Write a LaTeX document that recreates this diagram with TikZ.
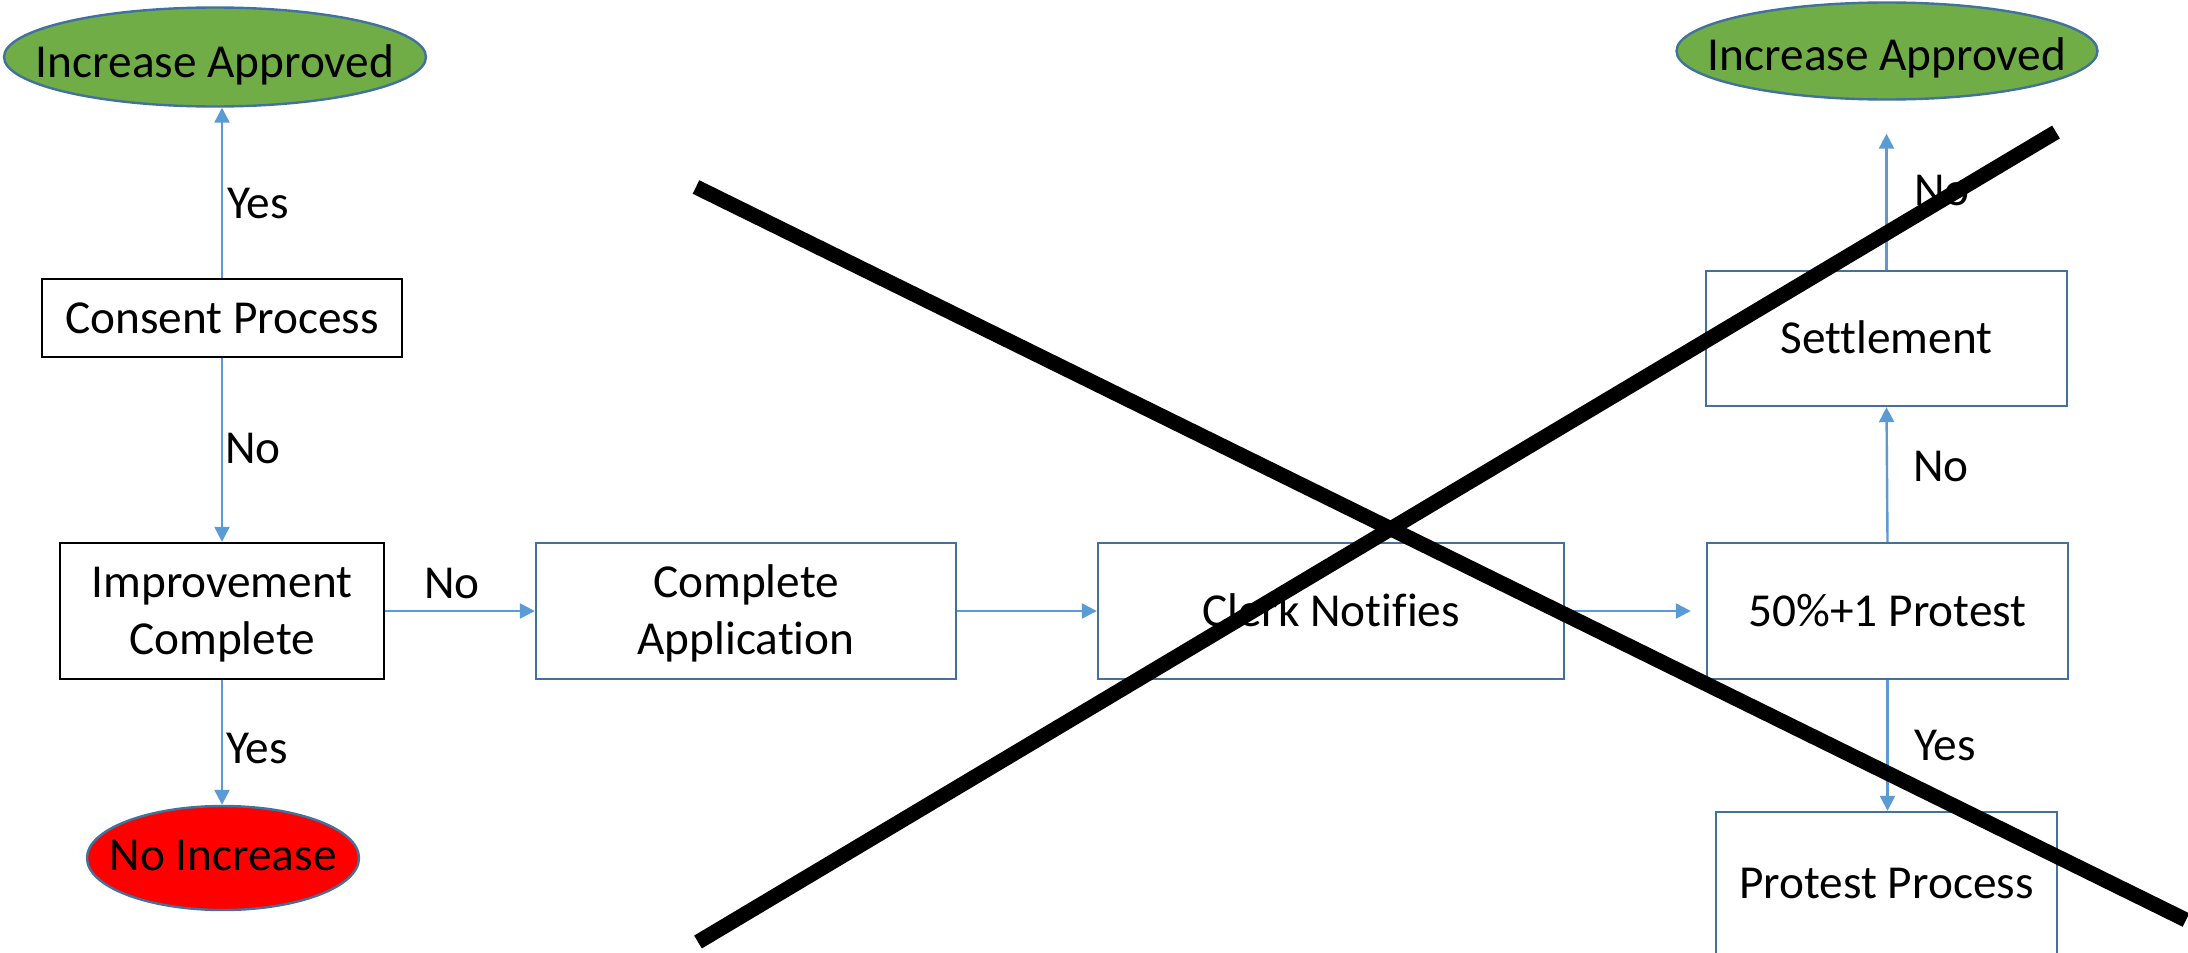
\documentclass[tikz,border=0pt]{standalone}
\usepackage{fontspec}
\setmainfont{Carlito}[Ligatures=NoCommon]
\usetikzlibrary{shapes.geometric, arrows.meta}

\definecolor{flow}{HTML}{5B9BD5}
\definecolor{edge}{HTML}{41719C}
\definecolor{okgreen}{HTML}{70AD47}
\definecolor{nored}{HTML}{FF0000}

\tikzset{
  every node/.style={font=\fontsize{47.3}{57.5}\selectfont, inner sep=0pt},
  capline/.style={text height=30pt, text depth=0pt},
  twoline/.style={align=center, text height=87.5pt, text depth=0pt},
  plainbox/.style={draw=black, line width=2.4pt, fill=white, capline},
  bluebox/.style={draw=edge, line width=2.4pt, fill=white, capline},
  outcome/.style={ellipse, draw=edge, line width=2.4pt},
  flowarrow/.style={draw=flow, line width=2.4pt, -{Triangle[length=15pt,width=15pt]}},
  answer/.style={anchor=west, capline},
  strike/.style={line width=15pt, black},
}

\begin{document}
\begin{tikzpicture}[x=1pt, y=-1pt]
\useasboundingbox (0,0) rectangle (2188,953);
\clip (0,0) rectangle (2188,953);

% left column
\node[outcome, fill=okgreen, minimum width=422pt, minimum height=99pt,
      label={[capline, yshift=-5pt]center:Increase Approved}] (apprL) at (215,57) {};
\node[plainbox, minimum width=360pt, minimum height=78pt] (cons) at (222,318) {Consent Process};
\node[plainbox, twoline, minimum width=324pt, minimum height=136pt] (impr) at (222,611) {Improvement\\Complete};
\node[outcome, fill=nored, minimum width=272pt, minimum height=104pt,
      label={[capline, yshift=3pt]center:No Increase}] (noinc) at (223,858) {};

% middle row
\node[bluebox, twoline, minimum width=420pt, minimum height=136pt] (appl) at (746,611) {Complete\\Application};
\node[bluebox, minimum width=466pt, minimum height=136pt] (clerk) at (1331,611) {Clerk Notifies};

% right column
\node[outcome, fill=okgreen, minimum width=421pt, minimum height=97pt,
      label={[capline, yshift=-4pt]center:Increase Approved}] (apprR) at (1887,51) {};
\node[bluebox, minimum width=361pt, minimum height=135pt] (settle) at (1886.5,338.5) {Settlement};
\node[bluebox, minimum width=361pt, minimum height=136pt] (vote) at (1887.5,611) {50\%+1 Protest};
\node[bluebox, minimum width=341pt, minimum height=143pt] (protest) at (1886.5,883.5) {Protest Process};

% connectors
\draw[flowarrow] (cons.north) -- (cons.north |- apprL.south);
\draw[flowarrow] (cons.south) -- (cons.south |- impr.north);
\draw[flowarrow] (impr.south) -- (impr.south |- noinc.north);
\draw[flowarrow] (impr.east) -- (appl.west);
\draw[flowarrow] (appl.east) -- (clerk.west);
\draw[flowarrow, shorten >=15pt] (clerk.east) -- (vote.west);
\draw[flowarrow] (vote.north) -- (settle.south);
\draw[flowarrow, shorten >=33pt] (settle.north) -- (settle.north |- apprR.south);
\draw[flowarrow] (vote.south) -- (vote.south |- protest.north);

% answers on the connectors
\node[answer] (yes1) at (227,203) {Yes};
\node[answer] (no1) at (225,448) {No};
\node[answer] (yes2) at (226,748) {Yes};
\node[answer] (no2) at (424,583) {No};
\node[answer] (no3) at (1914,190) {No};
\node[answer] (no4) at (1913,466) {No};
\node[answer] (yes3) at (1914,745) {Yes};

% the two strokes crossing out the right-hand path
\coordinate (s1a) at (696,187);
\coordinate (s1b) at (2186,920);
\coordinate (s2a) at (698,942);
\coordinate (s2b) at (2056,132);
\draw[strike] (s1a) -- (s1b);
\draw[strike] (s2a) -- (s2b);
\end{tikzpicture}
\end{document}
